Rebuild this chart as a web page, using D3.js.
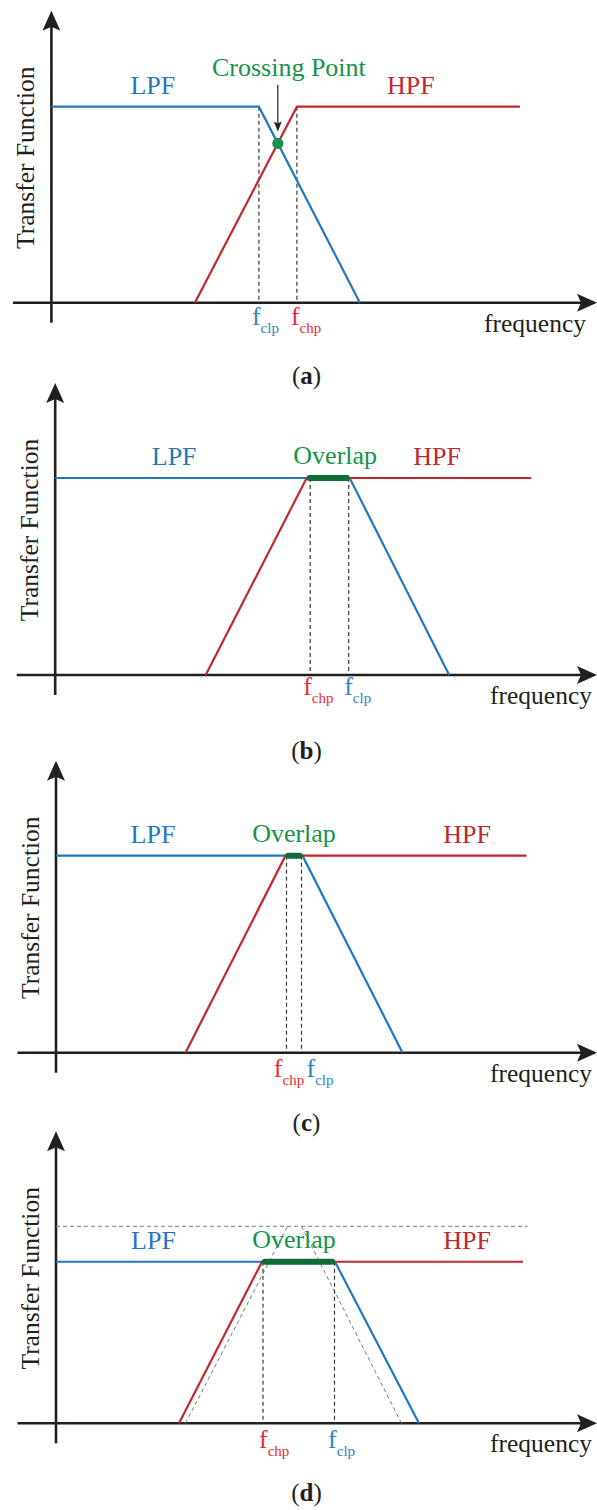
<!DOCTYPE html>
<html>
<head>
<meta charset="utf-8">
<script src="https://cdn.jsdelivr.net/npm/d3@7"></script>
<style>
  html, body { margin: 0; padding: 0; background: #fff; }
  svg { display: block; }
</style>
</head>
<body>
<script>
// Idealised low-pass / high-pass transfer functions in four configurations.
// Frequencies are in arbitrary units (0-10), gains are normalised (0-1).

const panelIds = ["a", "b", "c", "d"];
const seriesNames = ["LPF", "HPF"];
const midLabels = ["Crossing Point", "Overlap", "Overlap", "Overlap"];

// LPF corner points per panel: frequency and gain
const lpfFreq = [[0, 4.15, 6.17], [0, 5.89, 7.88], [0, 4.93, 6.93], [0, 5.58, 7.26]];
const lpfGain = [[1, 1, 0], [1, 1, 0], [1, 1, 0], [0.82, 0.82, 0]];

// HPF corner points per panel: frequency and gain
const hpfFreq = [[2.87, 4.91, 9.37], [3.01, 5.03, 9.52], [2.59, 4.59, 9.41], [2.46, 4.12, 9.34]];
const hpfGain = [[0, 1, 1], [0, 1, 1], [0, 1, 1], [0, 0.82, 0.82]];

// Marked cut-off frequencies
const fclp = [4.15, 5.87, 4.91, 5.57];
const fchp = [4.91, 5.10, 4.61, 4.14];

// Reference (unit-gain) response drawn dashed in panel d
const refLevelFreq = [0, 9.43];
const refLpfFreq = [4.91, 6.91];
const refLpfGain = [1, 0];
const refHpfFreq = [2.59, 4.63];
const refHpfGain = [0, 1];

// Placement of each panel on the page
const layout = [
  { ox: 51.4, axisY: 302.7, gainPx: 196, capY: 384, fDy: 22, clpDx: -7,   chpDx: -6,    lpfX: 2.03, hpfX: 7.19, midX: 4.75, midY: 76 },
  { ox: 55.2, axisY: 675,   gainPx: 197, capY: 759, fDy: 20, clpDx: -4.5, chpDx: -7,    lpfX: 2.38, hpfX: 7.64, midX: 5.60, midY: null },
  { ox: 56,   axisY: 1052.7, gainPx: 197, capY: 1131, fDy: 24, clpDx: 5,  chpDx: -12.7, lpfX: 1.94, hpfX: 8.22, midX: 4.76, midY: null },
  { ox: 56,   axisY: 1423.3, gainPx: 197, capY: 1501, fDy: 25, clpDx: -6.4, chpDx: -4,  lpfX: 1.95, hpfX: 8.22, midX: 4.76, midY: null }
];

const W = 597, H = 1510;
const FONT = "'Liberation Serif', 'Times New Roman', serif";
const C = {
  axis: "#231f20",
  lpf: "#1f78c1",
  hpf: "#c1272d",
  green: "#159447",
  bar: "#0f6b37",
  clp: "#2a86c8",
  chp: "#ec2a32",
  dash: "#3a3a3a",
  ref: "#7a7a7a"
};

const svg = d3.select("body").append("svg")
  .attr("width", W).attr("height", H)
  .style("font-family", FONT);

svg.append("rect").attr("width", W).attr("height", H).attr("fill", "#fff");

function arrowUp(g, tx, ty) {
  g.append("path")
    .attr("d", `M${tx},${ty} L${tx - 9},${ty + 20} L${tx},${ty + 16} L${tx + 9},${ty + 20} Z`)
    .attr("fill", C.axis);
}
function arrowRight(g, tx, ty) {
  g.append("path")
    .attr("d", `M${tx},${ty} L${tx - 20},${ty - 9} L${tx - 16},${ty} L${tx - 20},${ty + 9} Z`)
    .attr("fill", C.axis);
}

function subLabel(g, xPos, yPos, sub, color) {
  const t = g.append("text").attr("x", xPos).attr("y", yPos).attr("fill", color);
  t.append("tspan").attr("font-size", 26).text("f");
  t.append("tspan").attr("font-size", 15).attr("dy", 8).text(sub);
}

panelIds.forEach((id, i) => {
  const L = layout[i];
  const g = svg.append("g").attr("class", "panel-" + id);
  const x = d3.scaleLinear().domain([0, 10]).range([L.ox, L.ox + 500]);
  const y = d3.scaleLinear().domain([0, 1]).range([L.axisY, L.axisY - L.gainPx]);
  const line = d3.line().x(d => x(d[0])).y(d => y(d[1]));

  // axes
  g.append("line")
    .attr("x1", L.ox - 38.5).attr("x2", W - 14)
    .attr("y1", L.axisY).attr("y2", L.axisY)
    .attr("stroke", C.axis).attr("stroke-width", 2.6);
  arrowRight(g, W, L.axisY);
  g.append("line")
    .attr("x1", L.ox).attr("x2", L.ox)
    .attr("y1", L.axisY + 20).attr("y2", L.axisY - 278)
    .attr("stroke", C.axis).attr("stroke-width", 2.6);
  arrowUp(g, L.ox, L.axisY - 292);

  // axis titles
  g.append("text")
    .attr("transform", `translate(${L.ox - 17},${L.axisY - 145}) rotate(-90)`)
    .attr("text-anchor", "middle")
    .attr("font-size", 25.5)
    .attr("fill", C.axis)
    .text("Transfer Function");
  g.append("text")
    .attr("x", i === 0 ? 586 : 592).attr("y", L.axisY + 29)
    .attr("text-anchor", "end")
    .attr("font-size", 25.5)
    .attr("fill", C.axis)
    .text("frequency");

  // unit-gain reference response (panel d)
  if (id === "d") {
    const refStyle = sel => sel.attr("fill", "none").attr("stroke", C.ref)
      .attr("stroke-width", 1).attr("stroke-dasharray", "4,3");
    g.append("path").attr("d", line(refLevelFreq.map(f => [f, 1]))).call(refStyle);
    g.append("path").attr("d", line(refHpfFreq.map((f, k) => [f, refHpfGain[k]]))).call(refStyle);
    g.append("path").attr("d", line(refLpfFreq.map((f, k) => [f, refLpfGain[k]]))).call(refStyle);
  }

  // cut-off markers
  const level = lpfGain[i][0];
  [fclp[i], fchp[i]].forEach(f => {
    g.append("line")
      .attr("x1", x(f)).attr("x2", x(f))
      .attr("y1", y(level)).attr("y2", y(0))
      .attr("stroke", C.dash).attr("stroke-width", 1.2)
      .attr("stroke-dasharray", "4,3");
  });

  // filter responses
  const lpfPts = lpfFreq[i].map((f, k) => [f, lpfGain[i][k]]);
  const hpfPts = hpfFreq[i].map((f, k) => [f, hpfGain[i][k]]);
  g.append("path").attr("d", line(lpfPts))
    .attr("fill", "none").attr("stroke", C.lpf).attr("stroke-width", 2.2);
  g.append("path").attr("d", line(hpfPts))
    .attr("fill", "none").attr("stroke", C.hpf).attr("stroke-width", 2.2);

  // series labels
  g.append("text").attr("x", x(L.lpfX)).attr("y", y(level) - 13)
    .attr("text-anchor", "middle").attr("font-size", 26).attr("fill", C.lpf)
    .text(seriesNames[0]);
  g.append("text").attr("x", x(L.hpfX)).attr("y", y(level) - 13)
    .attr("text-anchor", "middle").attr("font-size", 26).attr("fill", C.hpf)
    .text(seriesNames[1]);

  if (id === "a") {
    // intersection of the falling LPF edge and the rising HPF edge
    const [l1, l2] = [lpfPts[1], lpfPts[2]];
    const [h1, h2] = [hpfPts[0], hpfPts[1]];
    const ml = (l2[1] - l1[1]) / (l2[0] - l1[0]);
    const mh = (h2[1] - h1[1]) / (h2[0] - h1[0]);
    const cf = (h1[1] - l1[1] + ml * l1[0] - mh * h1[0]) / (ml - mh);
    const cg = l1[1] + ml * (cf - l1[0]);
    const cx = x(cf), cy = y(cg);

    g.append("text").attr("x", x(L.midX)).attr("y", L.midY)
      .attr("text-anchor", "middle").attr("font-size", 26).attr("fill", C.green)
      .text(midLabels[0]);
    g.append("line")
      .attr("x1", cx).attr("x2", cx).attr("y1", 85).attr("y2", cy - 14)
      .attr("stroke", C.axis).attr("stroke-width", 1.2);
    g.append("path")
      .attr("d", `M${cx},${cy - 12} L${cx - 4},${cy - 22} L${cx},${cy - 20} L${cx + 4},${cy - 22} Z`)
      .attr("fill", C.axis);
    g.append("circle").attr("cx", cx).attr("cy", cy).attr("r", 5.6).attr("fill", C.green);
  } else {
    // overlap band between the HPF and LPF pass-band edges
    const x0 = x(hpfPts[1][0]), x1 = x(lpfPts[1][0]);
    g.append("rect")
      .attr("x", x0).attr("y", y(level) - 3)
      .attr("width", x1 - x0).attr("height", 6)
      .attr("rx", 2.5)
      .attr("fill", C.bar);
    g.append("text").attr("x", x(L.midX)).attr("y", y(level) - 14)
      .attr("text-anchor", "middle").attr("font-size", 26).attr("fill", C.green)
      .text(midLabels[i]);
  }

  // cut-off labels
  subLabel(g, x(fclp[i]) + L.clpDx, L.axisY + L.fDy, "clp", C.clp);
  subLabel(g, x(fchp[i]) + L.chpDx, L.axisY + L.fDy, "chp", C.chp);

  // caption
  const cap = g.append("text").attr("x", 306.5).attr("y", L.capY)
    .attr("text-anchor", "middle").attr("font-size", 25).attr("fill", C.axis);
  cap.append("tspan").text("(");
  cap.append("tspan").attr("font-weight", "bold").text(id);
  cap.append("tspan").text(")");
});
</script>
</body>
</html>
